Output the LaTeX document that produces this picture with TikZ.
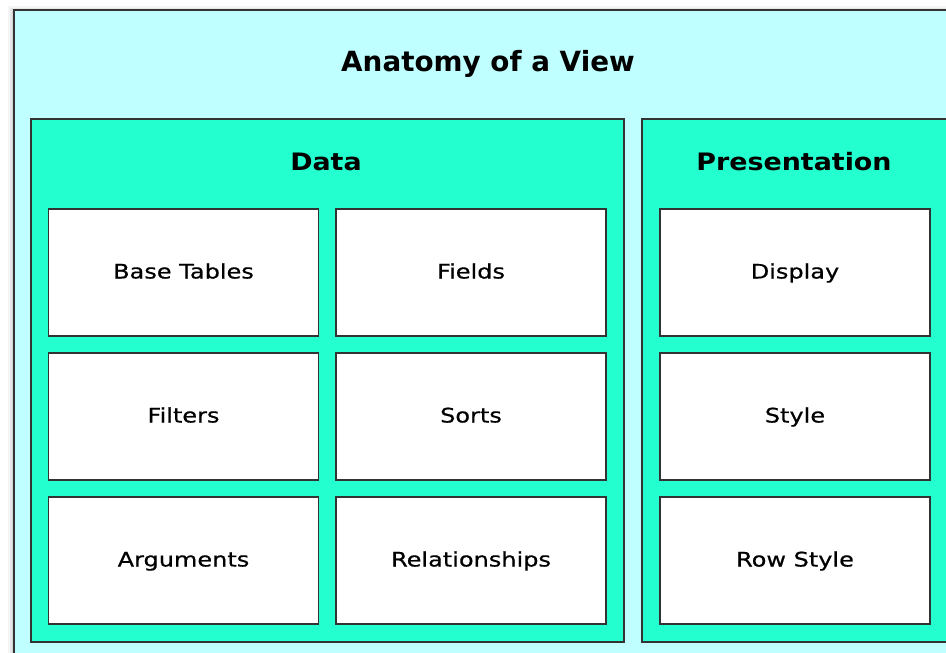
\documentclass[tikz,border=0pt]{standalone}
\usepackage{fontspec}
\setmainfont{DejaVu Sans}
\newfontfamily\itemfont[FakeStretch=1.2,FakeBold=0.6]{DejaVu Sans}
\newfontfamily\headfont[FakeStretch=1.12]{DejaVu Sans Bold}
\begin{document}
\begin{tikzpicture}[x=1pt,y=-1pt,
  edge/.style={draw=black!80,line width=1.8pt},
  outerbox/.style={edge,fill=outerfill},
  groupbox/.style={edge,fill=groupfill},
  itembox/.style={edge,fill=white,minimum width=270pt,minimum height=127pt,inner sep=0pt,
    text height=12pt,text depth=0pt,
    font=\itemfont\fontsize{20}{24}\selectfont},
  heading/.style={font=\headfont\fontsize{24}{30}\selectfont,inner sep=0pt,text height=17pt,text depth=5pt},
  titletext/.style={font=\bfseries\fontsize{27.8}{32}\selectfont,inner sep=0pt,text height=20pt,text depth=6pt}]
\definecolor{outerfill}{HTML}{C0FFFF}
\definecolor{groupfill}{HTML}{24FFCF}
\useasboundingbox (0,0) rectangle (946,653);
\clip (0,0) rectangle (946,653);
\fill[white] (0,0) rectangle (946,653);
% soft shadow
\foreach \d/\o in {6/0.04,4/0.06,2/0.08}{
  \fill[black,opacity=\o] (14-\d,10-\d*0.6) rectangle (980,680);
}
\path[outerbox] (14,10) rectangle (962,680);
\node[titletext] (title) at (488,64) {Anatomy of a View};
% groups
\path[groupbox] (31,119) rectangle (624,642);
\path[groupbox] (642,119) rectangle (948,642);
\node[heading] (data) at (326,164) {Data};
\node[heading] (pres) at (794,164) {Presentation};
% items
\node[itembox] (base) at (183.5,272.5) {Base Tables};
\node[itembox] (fields) at (471,272.5) {Fields};
\node[itembox] (filters) at (183.5,416.5) {Filters};
\node[itembox] (sorts) at (471,416.5) {Sorts};
\node[itembox] (args) at (183.5,560.5) {Arguments};
\node[itembox] (rel) at (471,560.5) {Relationships};
\node[itembox] (display) at (795,272.5) {Display};
\node[itembox] (style) at (795,416.5) {Style};
\node[itembox] (rowstyle) at (795,560.5) {Row Style};
\end{tikzpicture}
\end{document}
